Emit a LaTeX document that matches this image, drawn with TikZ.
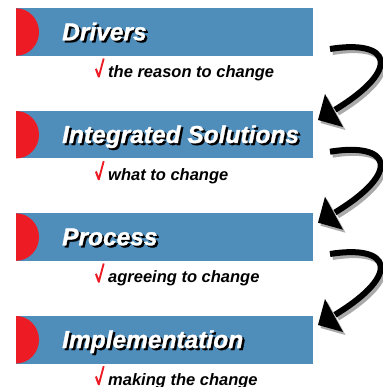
\documentclass[tikz,border=0pt]{standalone}
\usepackage{fontspec}
\setmainfont{Liberation Sans}
\newfontfamily\titlefont{Liberation Sans}[FakeBold=1.2]
\usetikzlibrary{calc}
\definecolor{barblue}{RGB}{79,141,187}
\definecolor{dotred}{RGB}{237,28,36}
\definecolor{shadowgray}{RGB}{170,170,170}
\newcommand\myarrowshape[1]{%
  \draw[line width=6pt,#1] (17,40.7) .. controls (77,31) and (90,60) .. (22,101.5);
  \fill[#1] (5,111.7) -- (12,85.7) -- (30,118.7) -- cycle;}
\newcommand\mycheck{%
  \fill[dotred] (-13,-8) -- (-11.2,-9) -- (-9.3,-3.8) -- (-5.2,-19) -- (-3.4,-18.6) -- (-8.4,0.2) -- (-10,0.2) -- cycle;}
\newcommand\shadowtext[1]{\makebox[0pt][l]{\hspace{2.2pt}\raisebox{-2pt}{\textcolor{black}{#1}}}\textcolor{white}{#1}}
\begin{document}
\begin{tikzpicture}[x=1pt,y=-1pt,
  bar/.style={fill=barblue, minimum width=297pt, minimum height=47.5pt, inner sep=0pt, outer sep=0pt, anchor=north west},
  title/.style={anchor=base west, inner sep=0pt, font=\titlefont\fontsize{24.5}{29}\selectfont\bfseries\itshape},
  sub/.style={anchor=base west, inner sep=0pt, font=\fontsize{16.5}{20}\selectfont\bfseries\itshape},
  ]
\useasboundingbox (0,0) rectangle (382,387);
% bars
\node[bar] (b1) at (16,8.3) {};
\node[bar] (b2) at (16,111) {};
\node[bar] (b3) at (16,213.3) {};
\node[bar] (b4) at (16,316) {};
% red half discs
\foreach \b in {b1,b2,b3,b4}{
  \fill[dotred] (\b.north west) arc[start angle=-90,end angle=90,x radius=23,y radius=23.75] -- cycle;
}
% titles
\foreach \b/\t in {b1/Drivers,b2/Integrated Solutions,b3/Process,b4/Implementation}{
  \node[title] (\b t) at ($(\b.north west)+(46,32)$) {\shadowtext{\t}};
}
% subtitles with checks
\foreach \b/\t in {b1/the reason to change,b2/what to change,b3/agreeing to change,b4/making the change}{
  \node[sub] (\b s) at ($(\b.south west)+(92,21.5)$) {\t};
  \begin{scope}[shift={(\b s.base west)}]
    \mycheck
  \end{scope}
}
% arrows
\foreach \b in {b1,b2,b3}{
  \begin{scope}[shift={($(\b.north east)+(2.5,3)$)}]
    \myarrowshape{shadowgray}
  \end{scope}
  \begin{scope}[shift={(\b.north east)}]
    \myarrowshape{black}
  \end{scope}
}
\end{tikzpicture}
\end{document}
